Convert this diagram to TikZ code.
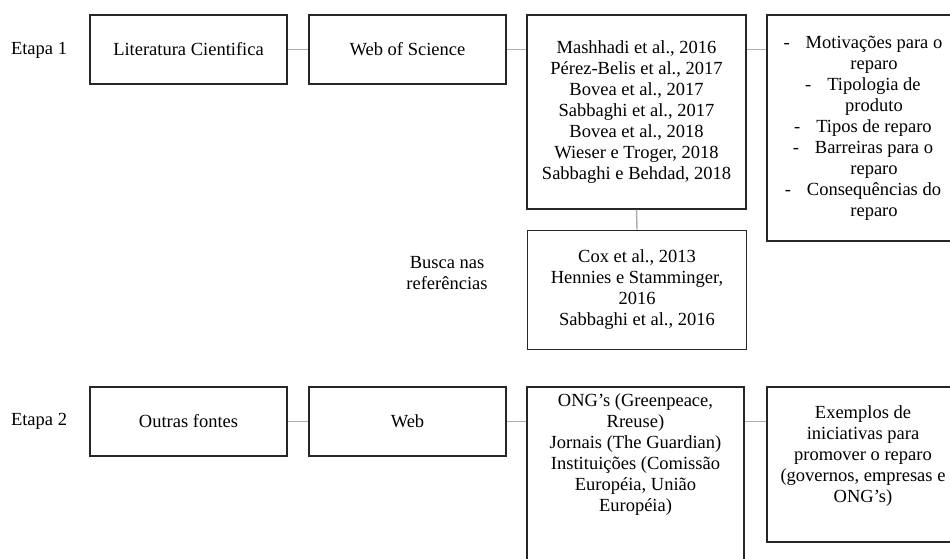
\documentclass[tikz,border=0pt]{standalone}
\usepackage{fontspec}
\setmainfont{Liberation Serif}
\begin{document}
\begin{tikzpicture}[x=1pt,y=-1pt,
  txt/.style={font=\fontsize{18.5}{21}\selectfont, align=center, inner sep=0pt},
  box/.style={txt, draw=black!85, line width=1.5pt, rectangle},
  link/.style={draw=black!32, line width=1.4pt}]
\useasboundingbox (0,0) rectangle (950,559);

% stage labels
\node[txt] (e1) at (39,50) {Etapa 1};
\node[txt] (e2) at (39,421) {Etapa 2};

% stage 1
\node[box, minimum width=197pt, minimum height=69pt] (lit) at (188.5,49.5) {Literatura Cientifica};
\node[box, minimum width=197pt, minimum height=69pt] (wos) at (407.5,49.5) {Web of Science};
\node[box, minimum width=219pt, minimum height=194pt] (art) at (636.5,112) {Mashhadi et al., 2016\\
  Pérez-Belis et al., 2017\\ Bovea et al., 2017\\ Sabbaghi et al., 2017\\
  Bovea et al., 2018\\ Wieser e Troger, 2018\\ Sabbaghi e Behdad, 2018};
\node[box, minimum width=214pt, minimum height=226pt] (tem) at (874,128) {%
  \llap{-\hspace{16pt}}Motivações para o\\ reparo\\
  \llap{-\hspace{16pt}}Tipologia de\\ produto\\
  \llap{-\hspace{16pt}}Tipos de reparo\\
  \llap{-\hspace{16pt}}Barreiras para o\\ reparo\\
  \llap{-\hspace{16pt}}Consequências do\\ reparo};
\node[box, minimum width=219pt, minimum height=119pt] (ref) at (637,290) {Cox et al., 2013\\
  Hennies e Stamminger,\\ 2016\\ Sabbaghi et al., 2016};
\node[txt] (busca) at (447,273) {Busca nas\\ referências};

% stage 2
\node[box, minimum width=197pt, minimum height=69pt] (out) at (188.5,421.5) {Outras fontes};
\node[box, minimum width=197pt, minimum height=69pt] (web) at (407.5,421.5) {Web};
\node[box, minimum width=217pt, minimum height=200pt] (ong) at (635.5,487) {};
\node[txt] (ongt) at (635.5,455) {ONG’s (Greenpeace,\\ Rreuse)\\ Jornais (The Guardian)\\
  Instituições (Comissão\\ Européia, União\\ Européia)};
\node[box, minimum width=192pt, minimum height=155pt] (exe) at (863,464.5) {};
\node[txt] (exet) at (863,456) {Exemplos de\\
  iniciativas para\\ promover o reparo\\ (governos, empresas e\\ ONG’s)};

% connectors
\draw[link] (lit.east) -- (wos.west);
\draw[link] (wos.east) -- (art.west |- wos.east);
\draw[link] (art.east |- wos.east) -- (tem.west |- wos.east);
\draw[link] (art.south) -- (ref.north);
\draw[link] (out.east) -- (web.west);
\draw[link] (web.east) -- (ong.west |- web.east);
\draw[link] (ong.east |- web.east) -- (exe.west |- web.east);
\end{tikzpicture}
\end{document}
